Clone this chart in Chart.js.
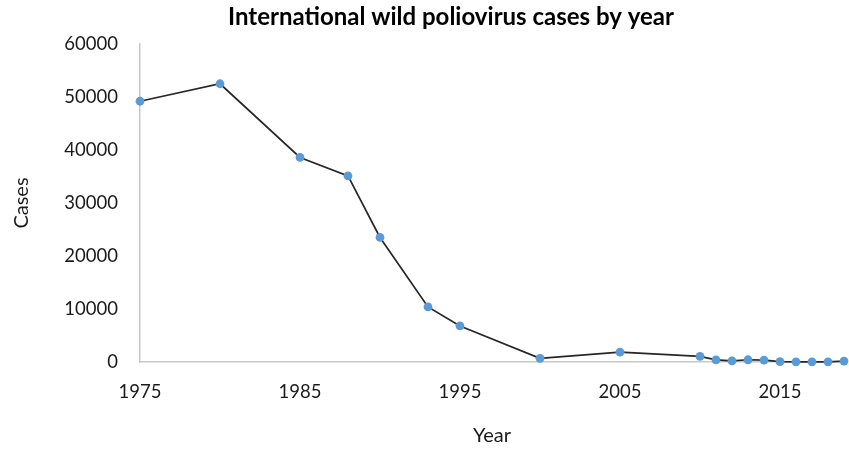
<!DOCTYPE html>
<html><head><meta charset="utf-8">
<script src="https://cdn.jsdelivr.net/npm/chart.js@4/dist/chart.umd.min.js"></script>
<style>html,body{margin:0;padding:0;background:#fff}</style>
</head><body>
<canvas id="c" width="849" height="452"></canvas>
<script>
const years = [1975,1980,1985,1988,1990,1993,1995,2000,2005,2010,2011,2012,2013,2014,2015,2016,2017,2018,2019];
const cases = [49200,52500,38600,35100,23500,10400,6800,700,1850,1050,400,220,420,360,80,40,25,35,180];
const xTicks = [1975,1985,1995,2005,2015];
const yTicks = [0,10000,20000,30000,40000,50000,60000];
const titleText = 'International wild poliovirus cases by year';
const xTitle = 'Year';
const yTitle = 'Cases';

const points = years.map((y, i) => ({x: y, y: cases[i]}));
const FONT = 'Lato';
const shiftTitle = {
  id: 'shiftTitle',
  afterLayout(chart) {
    const t = chart.titleBlock;
    if (t) { t.left += 29; t.right += 29; }
  }
};

new Chart(document.getElementById('c'), {
  type: 'line',
  data: {
    datasets: [{
      data: points,
      borderColor: '#262626',
      borderWidth: 1.7,
      pointBackgroundColor: '#5b9bd5',
      pointBorderColor: '#5b9bd5',
      pointBorderWidth: 0,
      pointRadius: 4.4,
      tension: 0,
      fill: false,
      clip: false
    }]
  },
  options: {
    responsive: false,
    animation: false,
    devicePixelRatio: 1,
    layout: {padding: {left: 0, right: 5, top: 0, bottom: 0}},
    plugins: {
      legend: {display: false},
      tooltip: {enabled: false},
      title: {
        display: true,
        text: titleText,
        color: '#000',
        font: {family: FONT, size: 24, weight: 'bold'},
        padding: {top: 3, bottom: 12.2}
      }
    },
    scales: {
      x: {
        type: 'linear',
        min: 1975,
        max: 2019,
        afterBuildTicks: (s) => { s.ticks = xTicks.map(v => ({value: v})); },
        afterFit: (s) => { s.height = 90; },
        grid: {display: true, color: 'transparent', drawTicks: false},
        border: {display: true, color: '#c8c8c8', width: 1.5},
        ticks: {
          padding: 19,
          maxRotation: 0,
          autoSkip: false,
          color: '#1a1a1a',
          font: {family: FONT, size: 18.5},
          callback: (v) => String(v)
        },
        title: {
          display: true,
          text: xTitle,
          color: '#1a1a1a',
          font: {family: FONT, size: 20},
          padding: {top: 0, bottom: 4}
        }
      },
      y: {
        min: 0,
        max: 60000,
        afterBuildTicks: (s) => { s.ticks = yTicks.map(v => ({value: v})); },
        afterFit: (s) => { s.width = 140; },
        grid: {display: true, color: 'transparent', drawTicks: false},
        border: {display: true, color: '#c8c8c8', width: 1.5},
        ticks: {
          padding: 22,
          color: '#1a1a1a',
          font: {family: FONT, size: 18.5},
          callback: (v) => String(v)
        },
        title: {
          display: true,
          text: yTitle,
          color: '#1a1a1a',
          font: {family: FONT, size: 20},
          padding: {top: 10, bottom: 0}
        }
      }
    }
  },
  plugins: [shiftTitle]
});
</script>
</body></html>
